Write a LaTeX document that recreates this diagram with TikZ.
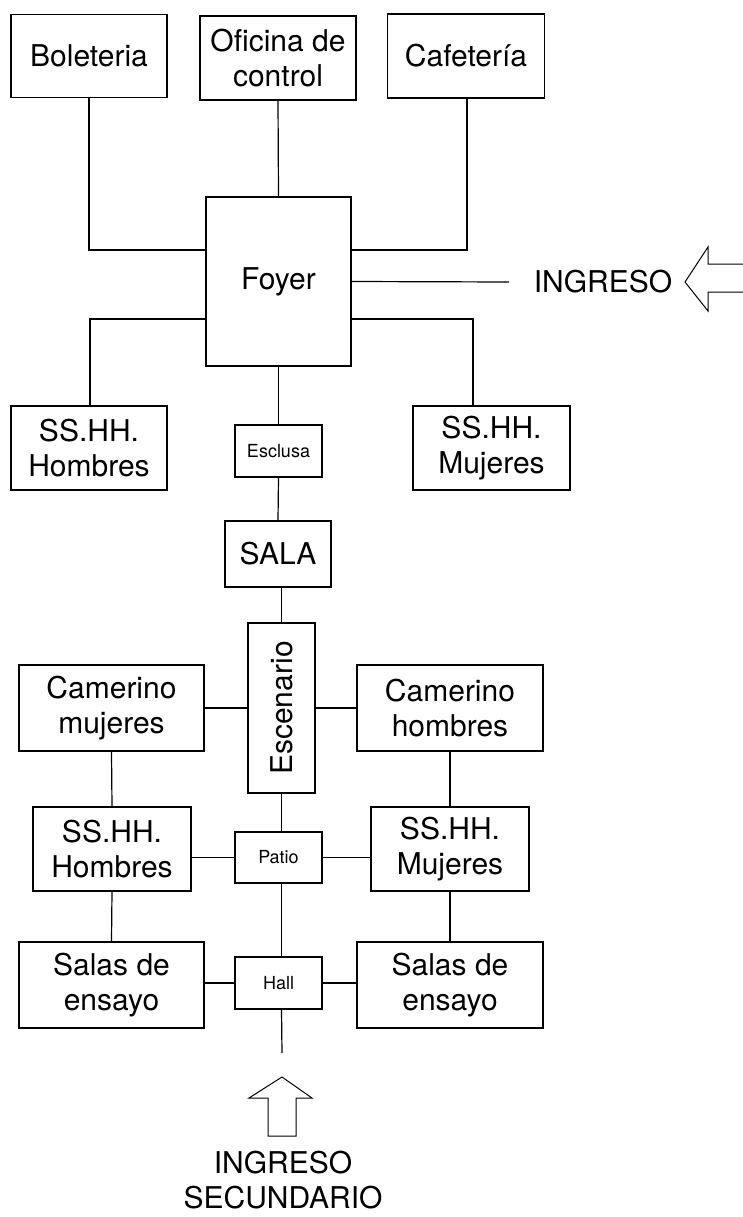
\documentclass[tikz,border=0pt]{standalone}
\usepackage{fontspec}
\setmainfont{TeX Gyre Heros}
\begin{document}
\begin{tikzpicture}[x=1pt,y=-1pt,line width=1.2pt,
    caja/.style={draw,inner sep=0pt,align=center,font=\fontsize{30}{35}\selectfont},
    cajita/.style={draw,inner sep=0pt,align=center,font=\fontsize{18}{21}\selectfont,minimum width=87pt,minimum height=52pt}]
    \useasboundingbox (0,0) rectangle (742,1217);
    % zona de ingreso
    \node[caja,minimum width=156pt,minimum height=83pt] (bol) at (89,56) {Boleteria};
    \node[caja,minimum width=156pt,minimum height=84pt] (ofi) at (278,58) {Oficina de\\control};
    \node[caja,minimum width=157pt,minimum height=84pt] (caf) at (466,56) {Cafetería};
    \node[caja,minimum width=145pt,minimum height=169pt] (foyer) at (278.5,281.5) {Foyer};
    \node[caja,minimum width=156pt,minimum height=84pt] (hh1) at (89,448) {SS.HH.\\Hombres};
    \node[cajita] (escl) at (278.5,451) {Esclusa};
    \node[caja,minimum width=157pt,minimum height=84pt] (mj1) at (491.5,448) {SS.HH.\\Mujeres};
    \node[caja,minimum width=106pt,minimum height=66pt] (sala) at (278,554) {SALA};
    % zona de escenario
    \node[caja,minimum width=67pt,minimum height=170pt] (escen) at (281.5,708) {\rotatebox{90}{Escenario}};
    \node[caja,minimum width=185pt,minimum height=86pt] (camM) at (111.5,708) {Camerino\\mujeres};
    \node[caja,minimum width=186pt,minimum height=86pt] (camH) at (450,708) {Camerino\\hombres};
    \node[caja,minimum width=158pt,minimum height=84pt] (hh2) at (112,849) {SS.HH.\\Hombres};
    \node[cajita,minimum height=51pt] (patio) at (278.5,857.5) {Patio};
    \node[caja,minimum width=158pt,minimum height=84pt] (mj2) at (450,849) {SS.HH.\\Mujeres};
    \node[caja,minimum width=185pt,minimum height=86pt] (ens1) at (111.5,985) {Salas de\\ensayo};
    \node[cajita] (hall) at (278.5,983) {Hall};
    \node[caja,minimum width=186pt,minimum height=86pt] (ens2) at (450,985) {Salas de\\ensayo};
    \node[font=\fontsize{30}{35}\selectfont] (ingreso) at (603,282) {INGRESO};
    \node[align=center,font=\fontsize{30}{35}\selectfont] (ingreso2) at (283,1180) {INGRESO\\SECUNDARIO};
    \coordinate (finI) at (509,282);
    \coordinate (finH) at (282,1053);
    % conexiones
    \draw (bol.south) |- ([yshift=31.5pt]foyer.west);
    \draw ([xshift=1pt]caf.south) |- ([yshift=31.5pt]foyer.east);
    \draw (ofi.south) -- (foyer.north);
    \draw ([xshift=1pt]hh1.north) |- ([yshift=-37.5pt]foyer.west);
    \draw ([xshift=-18.5pt]mj1.north) |- ([yshift=-37.5pt]foyer.east);
    \draw (foyer.east) -- (finI);
    \draw (foyer.south) -- (escl.north);
    \draw (escl.south) -- (sala.north);
    \draw (escen.north |- sala.south) -- (escen.north);
    \draw (camM.east) -- (escen.west);
    \draw (camH.west) -- (escen.east);
    \draw (camM.south) -- (hh2.north);
    \draw (camH.south) -- (mj2.north);
    \draw (escen.south) -- (escen.south |- patio.north);
    \draw (patio.west) -- (patio.west -| hh2.east);
    \draw (patio.east) -- (patio.east -| mj2.west);
    \draw (escen.south |- patio.south) -- (escen.south |- hall.north);
    \draw (hh2.south) -- (ens1.north);
    \draw (mj2.south) -- (ens2.north);
    \draw (hall.west) -- (hall.west -| ens1.east);
    \draw (hall.east) -- (hall.east -| ens2.west);
    \draw (escen.south |- hall.south) -- (finH);
    % flechas de ingreso
    \draw[fill=white,line width=1pt] (685,282) -- (708,247) -- (708,264) -- (745,264) -- (745,292) -- (708,292) -- (708,311) -- cycle;
    \draw[fill=white,line width=1pt] (282,1077) -- (312,1098) -- (296,1098) -- (296,1136) -- (268,1136) -- (268,1098) -- (249,1098) -- cycle;
\end{tikzpicture}
\end{document}
